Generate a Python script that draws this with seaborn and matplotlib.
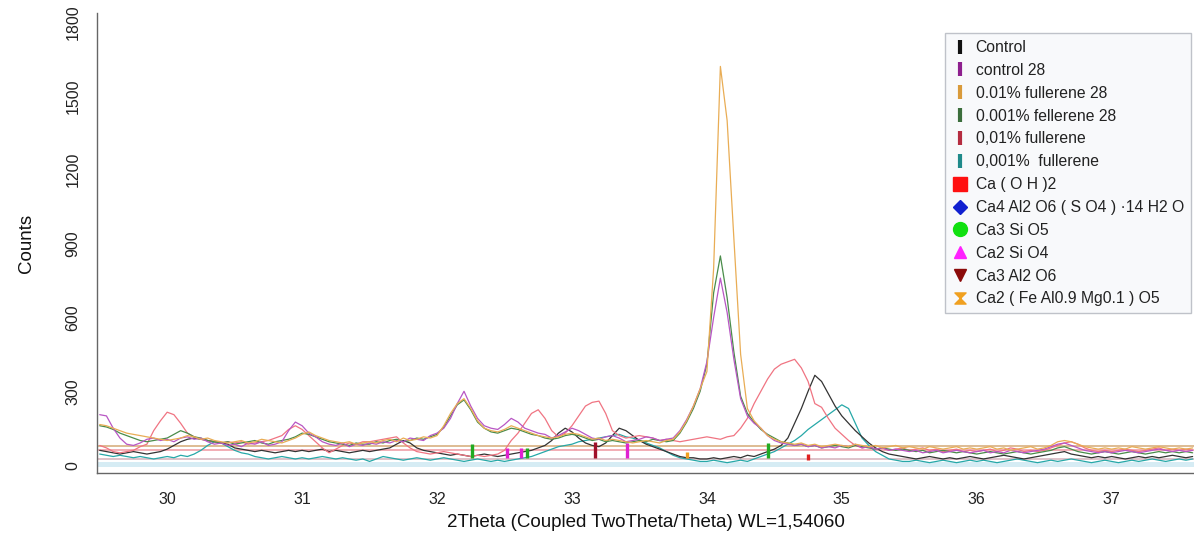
import numpy as np
import pandas as pd
import matplotlib
matplotlib.use("Agg")
import matplotlib.pyplot as plt
from matplotlib.lines import Line2D
from matplotlib.path import Path
from matplotlib.ticker import MultipleLocator
import seaborn as sns

# ---------------- data ----------------
two_theta = np.round(29.50 + 0.05 * np.arange(163), 2)   # scan grid 29.50 .. 37.60

control = [60, 55, 50, 45, 50, 55, 50, 45, 50, 55,
           65, 80, 95, 105, 110, 105, 100, 95, 90, 85,
           70, 65, 60, 55, 60, 55, 50, 55, 60, 55,
           60, 55, 60, 65, 55, 60, 55, 50, 55, 60,
           55, 60, 65, 70, 85, 100, 90, 70, 60, 55,
           50, 45, 40, 45, 40, 35, 40, 45, 40, 35,
           40, 45, 50, 55, 60, 70, 80, 100, 130, 150,
           135, 110, 90, 80, 75, 90, 120, 150, 140, 120,
           100, 85, 75, 65, 55, 45, 35, 30, 30, 25,
           25, 30, 25, 30, 35, 30, 40, 35, 45, 55,
           65, 80, 110, 170, 230, 300, 365, 340, 290, 240,
           200, 170, 140, 115, 90, 70, 55, 45, 40, 35,
           30, 25, 30, 35, 30, 25, 30, 25, 30, 35,
           30, 25, 30, 35, 40, 35, 30, 25, 30, 35,
           40, 45, 50, 55, 45, 40, 35, 30, 35, 30,
           35, 30, 25, 30, 35, 30, 35, 30, 35, 40,
           35, 30, 35]

control_28 = [205, 200, 150, 110, 85, 80, 90, 105, 110, 100,
              105, 95, 110, 115, 105, 110, 95, 85, 90, 80,
              85, 75, 90, 85, 95, 80, 85, 95, 140, 175,
              160, 130, 115, 95, 85, 80, 90, 75, 85, 80,
              90, 85, 95, 90, 100, 95, 110, 105, 100, 120,
              130, 150, 190, 250, 300, 240, 190, 160, 150, 145,
              165, 190, 175, 150, 140, 130, 125, 110, 120, 135,
              150, 140, 125, 110, 105, 115, 120, 110, 95, 100,
              105, 115, 110, 100, 105, 110, 140, 185, 240, 310,
              420, 600, 760, 620, 430, 270, 200, 170, 150, 120,
              100, 90, 85, 80, 85, 75, 80, 70, 75, 70,
              80, 75, 85, 70, 75, 65, 70, 60, 65, 60,
              55, 60, 50, 55, 60, 50, 55, 60, 55, 50,
              55, 60, 50, 55, 50, 60, 55, 50, 55, 60,
              65, 75, 85, 90, 80, 70, 60, 55, 50, 55,
              50, 55, 60, 55, 50, 55, 60, 65, 60, 55,
              60, 55, 60]

fullerene_001_28 = [165, 160, 150, 140, 130, 125, 120, 115, 110, 105,
                    100, 105, 110, 120, 115, 105, 110, 100, 95, 90,
                    95, 100, 90, 95, 105, 100, 95, 90, 100, 110,
                    125, 135, 120, 110, 100, 95, 90, 95, 85, 90,
                    95, 90, 100, 105, 95, 110, 100, 105, 115, 110,
                    120, 160, 210, 250, 270, 230, 180, 150, 140, 135,
                    145, 160, 150, 140, 130, 120, 115, 110, 115, 125,
                    130, 125, 115, 105, 110, 100, 105, 100, 95, 90,
                    95, 100, 95, 90, 100, 105, 135, 180, 240, 310,
                    380, 800, 1620, 1400, 920, 450, 230, 180, 150, 120,
                    105, 95, 90, 85, 90, 80, 85, 75, 80, 85,
                    80, 75, 85, 80, 75, 80, 70, 75, 80, 70,
                    75, 70, 65, 75, 70, 65, 70, 75, 65, 70,
                    65, 70, 75, 65, 70, 60, 65, 70, 75, 65,
                    70, 80, 95, 100, 95, 85, 75, 70, 65, 70,
                    65, 70, 65, 75, 70, 65, 70, 75, 70, 65,
                    70, 65, 70]

fullerene_0001_28 = [160, 155, 145, 130, 120, 110, 100, 95, 100, 105,
                     110, 125, 140, 130, 115, 110, 100, 95, 90, 95,
                     85, 90, 95, 100, 90, 85, 95, 100, 105, 115,
                     130, 125, 115, 105, 95, 90, 85, 80, 90, 85,
                     85, 95, 90, 100, 105, 95, 100, 110, 105, 115,
                     125, 155, 200, 245, 265, 225, 175, 150, 135, 130,
                     140, 150, 145, 135, 125, 120, 110, 105, 110, 120,
                     125, 120, 110, 100, 105, 95, 100, 95, 90, 95,
                     100, 95, 105, 100, 95, 100, 130, 175, 230, 300,
                     410, 700, 850, 680, 460, 280, 210, 175, 145, 125,
                     110, 95, 90, 80, 85, 75, 80, 70, 75, 80,
                     75, 70, 80, 75, 70, 65, 70, 65, 60, 65,
                     60, 55, 60, 50, 55, 60, 55, 50, 55, 50,
                     45, 50, 55, 50, 45, 50, 55, 50, 45, 50,
                     55, 60, 70, 75, 65, 55, 50, 45, 50, 55,
                     50, 45, 50, 55, 50, 45, 50, 55, 50, 55,
                     50, 55, 50]

fullerene_001 = [80, 70, 55, 50, 55, 60, 75, 85, 140, 180,
                 215, 205, 170, 130, 115, 105, 100, 95, 90, 95,
                 90, 95, 85, 90, 95, 100, 110, 120, 145, 160,
                 145, 120, 95, 70, 50, 65, 80, 90, 85, 95,
                 95, 100, 105, 110, 115, 90, 70, 55, 50, 45,
                 50, 55, 50, 45, 40, 35, 40, 35, 40, 45,
                 60, 100, 130, 170, 210, 225, 190, 140, 115, 130,
                 160, 200, 240, 255, 260, 210, 140, 120, 110, 115,
                 120, 115, 110, 100, 105, 100, 95, 100, 105, 110,
                 115, 110, 105, 115, 120, 150, 190, 250, 300, 350,
                 390, 410, 420, 430, 395, 340, 250, 235, 190, 150,
                 125, 100, 80, 70, 75, 65, 70, 60, 65, 70,
                 60, 65, 70, 60, 65, 55, 60, 65, 55, 60,
                 55, 60, 65, 55, 60, 70, 65, 55, 60, 55,
                 60, 70, 80, 90, 95, 85, 70, 60, 55, 60,
                 55, 60, 65, 60, 55, 60, 65, 70, 60, 65,
                 60, 65, 60]

fullerene_0001 = [45, 40, 35, 40, 35, 30, 35, 30, 25, 30,
                  35, 30, 40, 35, 45, 60, 80, 95, 90, 75,
                  60, 50, 45, 35, 30, 25, 30, 35, 30, 25,
                  30, 25, 30, 35, 30, 25, 30, 25, 20, 25,
                  15, 25, 35, 30, 25, 20, 25, 30, 25, 20,
                  25, 30, 25, 20, 15, 20, 25, 20, 15, 20,
                  15, 20, 25, 30, 35, 45, 55, 65, 75, 80,
                  85, 95, 100, 105, 110, 115, 120, 125, 115, 110,
                  100, 90, 80, 70, 55, 40, 30, 25, 20, 15,
                  15, 20, 15, 10, 15, 20, 15, 25, 35, 45,
                  55, 70, 85, 100, 120, 145, 165, 185, 205, 225,
                  245, 230, 170, 110, 80, 55, 40, 25, 20, 15,
                  15, 20, 15, 10, 15, 20, 15, 10, 15, 20,
                  15, 20, 15, 10, 15, 20, 25, 20, 15, 10,
                  15, 20, 15, 20, 25, 20, 15, 10, 15, 20,
                  15, 10, 15, 20, 15, 20, 25, 20, 15, 20,
                  25, 20, 25]

scan_names = ["Control", "control 28", "0.01% fullerene 28",
              "0.001% fellerene 28", "0,01% fullerene", "0,001%  fullerene"]
scan_colors = ["#333333", "#b856c4", "#e9ad55", "#4a8c4a", "#f07482", "#26a8a8"]
legend_bar_colors = ["#111111", "#8e1f8e", "#d99a3a", "#3c6e3c", "#b52c40", "#1f8a8a"]

# background levels of the scans (flat lines near the bottom)
bg_levels = [78, 60, 24]
bg_colors = ["#d8b080", "#f0a0a8", "#d8b8c0"]
band_lo, band_hi = -6, 12

# phase reference sticks: position, low, high
stick_pos = [32.26, 32.52, 32.62, 32.67, 33.17, 33.41, 33.85, 34.45, 34.75]
stick_lo = [30, 30, 30, 30, 30, 30, 30, 28, 20]
stick_hi = [85, 70, 70, 70, 95, 90, 55, 90, 45]
stick_col = ["#22aa22", "#e020d0", "#e020d0", "#22aa22", "#a0102a", "#e020d0",
             "#f0a020", "#22aa22", "#e02020"]

phase_names = ["Ca ( O H )2", "Ca4 Al2 O6 ( S O4 ) \u00b714 H2 O", "Ca3 Si O5",
               "Ca2 Si O4", "Ca3 Al2 O6", "Ca2 ( Fe Al0.9 Mg0.1 ) O5"]
phase_colors = ["#ff1010", "#1020d0", "#10e010", "#ff20ff", "#8b0a0a", "#f0a020"]

# ---------------- plotting ----------------
sns.set_style("white")
plt.rcParams["font.family"] = ["Liberation Sans", "DejaVu Sans"]

series = [control, control_28, fullerene_001_28, fullerene_0001_28,
          fullerene_001, fullerene_0001]
df = pd.concat([pd.DataFrame({"2theta": two_theta, "counts": s, "scan": n})
                for s, n in zip(series, scan_names)], ignore_index=True)

fig = plt.figure(figsize=(11.94, 5.37), dpi=100)
ax = fig.add_axes([97 / 1194, 1 - 473 / 537, 1 - 97 / 1194, (473 - 13) / 537])

ax.axhspan(band_lo, band_hi, color="#d6ecf4", lw=0, zorder=0)
for lvl, c in zip(bg_levels, bg_colors):
    ax.axhline(lvl, color=c, lw=1.2, zorder=1)

draw_order = [5, 0, 4, 3, 1, 2]
pal = dict(zip(scan_names, scan_colors))
sns.lineplot(data=df, x="2theta", y="counts", hue="scan", palette=pal,
             hue_order=[scan_names[i] for i in draw_order],
             lw=0.9, legend=False, ax=ax, zorder=3)

ax.vlines(stick_pos, stick_lo, stick_hi, colors=stick_col, lw=2.4, zorder=4)

ax.set_xlim(29.48, 37.61)
ax.set_ylim(-32, 1837)
ax.xaxis.set_major_locator(MultipleLocator(1))
ax.xaxis.set_minor_locator(MultipleLocator(0.1))
ax.yaxis.set_major_locator(MultipleLocator(300))
ax.yaxis.set_minor_locator(MultipleLocator(50))
for s in ["top", "right"]:
    ax.spines[s].set_visible(False)
for s in ["left", "bottom"]:
    ax.spines[s].set_color("#666666")
    ax.spines[s].set_linewidth(1.0)
ax.tick_params(axis="both", which="major", length=8, width=1.0, color="#666666",
               labelsize=11.5, labelcolor="#222222", direction="out")
ax.tick_params(axis="both", which="minor", length=4, width=1.0, color="#666666",
               direction="out")
ax.tick_params(axis="x", which="major", pad=6)
ax.tick_params(axis="y", which="major", pad=4)
for lab in ax.get_yticklabels():
    lab.set_rotation(90)
    lab.set_va("center")
ax.set_xlabel("2Theta (Coupled TwoTheta/Theta) WL=1,54060", fontsize=13.5,
              color="#111111", labelpad=5)
ax.set_ylabel("Counts", fontsize=13.5, color="#111111", labelpad=22)

# legend
handles = []
for c in legend_bar_colors:
    handles.append(Line2D([], [], ls="none", marker="|", markersize=10,
                          markeredgewidth=3.0, color=c))
hourglass = Path([(-1, 1), (1, 1), (-1, -1), (1, -1), (-1, 1)],
                 [Path.MOVETO, Path.LINETO, Path.LINETO, Path.LINETO, Path.CLOSEPOLY])
phase_markers = ["s", "D", "o", "^", "v", hourglass]
phase_sizes = [10, 7, 10, 9, 9, 8]
for m, c, sz in zip(phase_markers, phase_colors, phase_sizes):
    handles.append(Line2D([], [], ls="none", marker=m, markersize=sz,
                          markerfacecolor=c, markeredgecolor=c, color=c))
leg = ax.legend(handles, scan_names + phase_names, loc="upper left",
                bbox_to_anchor=(945 / 1194, 1 - 33 / 537),
                bbox_transform=fig.transFigure, fontsize=11.3,
                labelspacing=0.5, handlelength=1.0, handletextpad=0.5,
                borderpad=0.45, borderaxespad=0, frameon=True, fancybox=False)
leg.get_frame().set_edgecolor("#b0b4bc")
leg.get_frame().set_facecolor("#f7f8fa")
leg.get_frame().set_linewidth(1.0)
for t in leg.get_texts():
    t.set_color("#222222")

fig.savefig("out.png", dpi=100)
